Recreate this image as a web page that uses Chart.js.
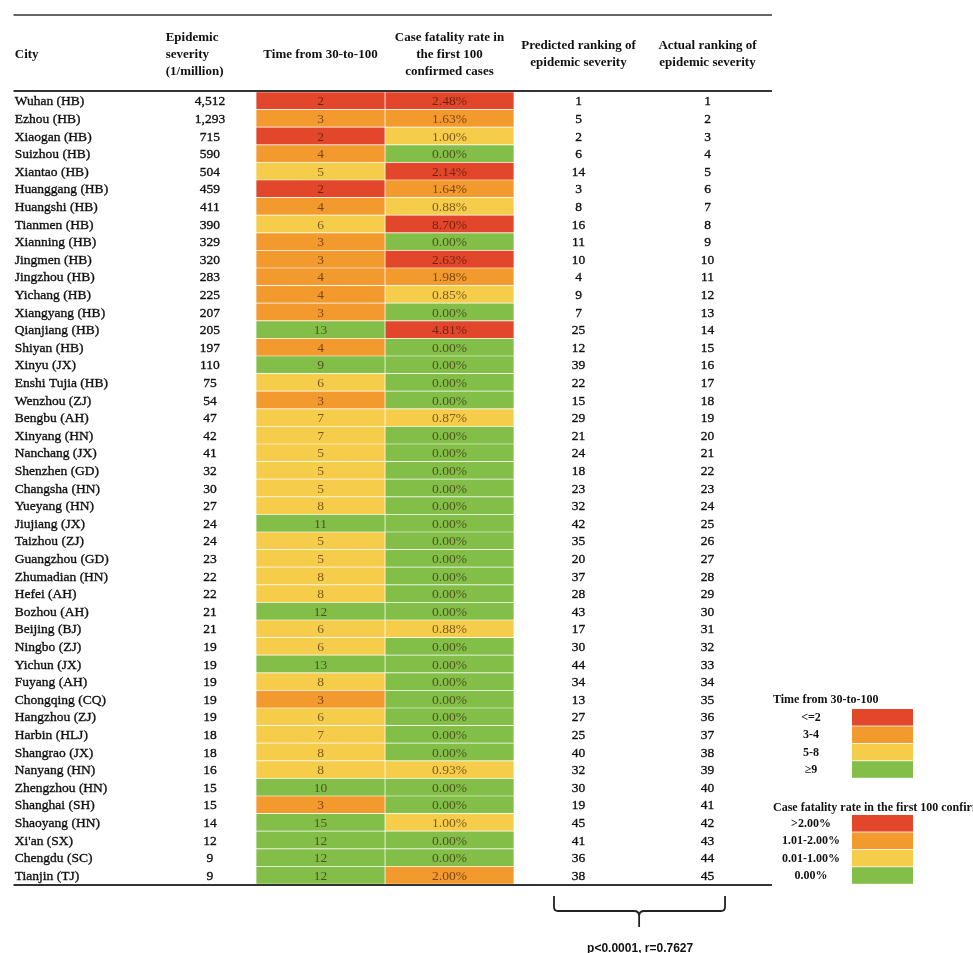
<!DOCTYPE html>
<html>
<head>
<meta charset="utf-8">
<script src="https://cdn.jsdelivr.net/npm/chart.js@4.4.1/dist/chart.umd.min.js"></script>
<style>
  html, body { margin: 0; padding: 0; background: #fff; }
  #wrap { width: 973px; height: 953px; overflow: hidden; }
</style>
</head>
<body>
<div id="wrap"><canvas id="tableChart" width="973" height="953"></canvas></div>
<script>
const cities = [
  "Wuhan (HB)", "Ezhou (HB)", "Xiaogan (HB)", "Suizhou (HB)", "Xiantao (HB)",
  "Huanggang (HB)", "Huangshi (HB)", "Tianmen (HB)", "Xianning (HB)", "Jingmen (HB)",
  "Jingzhou (HB)", "Yichang (HB)", "Xiangyang (HB)", "Qianjiang (HB)", "Shiyan (HB)",
  "Xinyu (JX)", "Enshi Tujia (HB)", "Wenzhou (ZJ)", "Bengbu (AH)", "Xinyang (HN)",
  "Nanchang (JX)", "Shenzhen (GD)", "Changsha (HN)", "Yueyang (HN)", "Jiujiang (JX)",
  "Taizhou (ZJ)", "Guangzhou (GD)", "Zhumadian (HN)", "Hefei (AH)", "Bozhou (AH)",
  "Beijing (BJ)", "Ningbo (ZJ)", "Yichun (JX)", "Fuyang (AH)", "Chongqing (CQ)",
  "Hangzhou (ZJ)", "Harbin (HLJ)", "Shangrao (JX)", "Nanyang (HN)", "Zhengzhou (HN)",
  "Shanghai (SH)", "Shaoyang (HN)", "Xi'an (SX)", "Chengdu (SC)", "Tianjin (TJ)"
];
const severity = [
  4512, 1293, 715, 590, 504, 459, 411, 390, 329, 320, 283, 225, 207, 205, 197,
  110, 75, 54, 47, 42, 41, 32, 30, 27, 24, 24, 23, 22, 22, 21,
  21, 19, 19, 19, 19, 19, 18, 18, 16, 15, 15, 14, 12, 9, 9
];
const timeDays = [
  2, 3, 2, 4, 5, 2, 4, 6, 3, 3, 4, 4, 3, 13, 4,
  9, 6, 3, 7, 7, 5, 5, 5, 8, 11, 5, 5, 8, 8, 12,
  6, 6, 13, 8, 3, 6, 7, 8, 8, 10, 3, 15, 12, 12, 12
];
const fatalityRate = [
  2.48, 1.63, 1.00, 0.00, 2.14, 1.64, 0.88, 8.70, 0.00, 2.63, 1.98, 0.85, 0.00, 4.81, 0.00,
  0.00, 0.00, 0.00, 0.87, 0.00, 0.00, 0.00, 0.00, 0.00, 0.00, 0.00, 0.00, 0.00, 0.00, 0.00,
  0.88, 0.00, 0.00, 0.00, 0.00, 0.00, 0.00, 0.00, 0.93, 0.00, 0.00, 1.00, 0.00, 0.00, 2.00
];
const predictedRank = [
  1, 5, 2, 6, 14, 3, 8, 16, 11, 10, 4, 9, 7, 25, 12,
  39, 22, 15, 29, 21, 24, 18, 23, 32, 42, 35, 20, 37, 28, 43,
  17, 30, 44, 34, 13, 27, 25, 40, 32, 30, 19, 45, 41, 36, 38
];
const actualRank = [
  1, 2, 3, 4, 5, 6, 7, 8, 9, 10, 11, 12, 13, 14, 15,
  16, 17, 18, 19, 20, 21, 22, 23, 24, 25, 26, 27, 28, 29, 30,
  31, 32, 33, 34, 35, 36, 37, 38, 39, 40, 41, 42, 43, 44, 45
];
const timeBins = ["<=2", "3-4", "5-8", "\u22659"];
const fatalityBins = [">2.00%", "1.01-2.00%", "0.01-1.00%", "0.00%"];
const binColors = ["#E2462B", "#F29A2E", "#F6CD4B", "#82BE48"];

const SERIF = '"Liberation Serif", "DejaVu Serif", serif';

function timeBin(d) {
  if (d <= 2) return 0;
  if (d <= 4) return 1;
  if (d <= 8) return 2;
  return 3;
}
function fatalityBin(r) {
  if (r > 2) return 0;
  if (r > 1) return 1;
  if (r > 0) return 2;
  return 3;
}

// draws header, body text, rules, legend and the bracket
const tablePlugin = {
  id: "tableText",
  afterDatasetsDraw(chart) {
    const { ctx, chartArea } = chart;
    const x = chart.scales.x;
    const y = chart.scales.y;
    const col = v => x.getPixelForValue(v);
    const tLeft = col(-1.88), tRight = col(4);
    // slightly heavier text, the scan is a bit smeared
    const text = (s, px, py) => {
      ctx.fillText(s, px, py);
      ctx.strokeText(s, px, py);
    };

    ctx.save();

    // rules
    ctx.strokeStyle = "#333";
    ctx.lineWidth = 1.5;
    ctx.beginPath();
    ctx.moveTo(tLeft, 15); ctx.lineTo(tRight, 15);
    ctx.stroke();
    ctx.lineWidth = 2;
    ctx.beginPath();
    ctx.moveTo(tLeft, chartArea.top - 1); ctx.lineTo(tRight, chartArea.top - 1);
    ctx.moveTo(tLeft, chartArea.bottom + 1); ctx.lineTo(tRight, chartArea.bottom + 1);
    ctx.stroke();

    // header
    ctx.fillStyle = "#111";
    ctx.textBaseline = "middle";
    ctx.font = "bold 13px " + SERIF;
    ctx.textAlign = "left";
    ctx.fillText("City", col(-1.87), 55);
    ctx.fillText("Epidemic", col(-0.70), 38);
    ctx.fillText("severity", col(-0.70), 55);
    ctx.fillText("(1/million)", col(-0.70), 72);
    ctx.textAlign = "center";
    ctx.fillText("Time from 30-to-100", col(0.5), 55);
    ctx.fillText("Case fatality rate in", col(1.5), 38);
    ctx.fillText("the first 100", col(1.5), 55);
    ctx.fillText("confirmed cases", col(1.5), 72);
    ctx.fillText("Predicted ranking of", col(2.5), 46);
    ctx.fillText("epidemic severity", col(2.5), 63);
    ctx.fillText("Actual ranking of", col(3.5), 46);
    ctx.fillText("epidemic severity", col(3.5), 63);

    // body rows
    ctx.font = "13.5px " + SERIF;
    ctx.lineWidth = 0.35;
    cities.forEach((name, i) => {
      const yc = y.getPixelForValue(i) + 1;
      ctx.fillStyle = "#111";
      ctx.strokeStyle = "#111";
      ctx.textAlign = "left";
      text(name, col(-1.87), yc);
      ctx.textAlign = "center";
      text(severity[i].toLocaleString("en-US"), col(-0.357), yc);
      text(String(predictedRank[i]), col(2.5), yc);
      text(String(actualRank[i]), col(3.5), yc);
      ctx.fillStyle = "rgba(45,15,0,0.62)";
      ctx.fillText(String(timeDays[i]), col(0.5), yc);
      ctx.fillText(fatalityRate[i].toFixed(2) + "%", col(1.5), yc);
    });

    // legend
    const swL = 852, swW = 61, swH = 17.4;
    ctx.font = "bold 12px " + SERIF;
    ctx.fillStyle = "#111";
    ctx.textAlign = "left";
    ctx.fillText("Time from 30-to-100", 773, 700);
    ctx.fillText("Case fatality rate in the first 100 confirmed cases", 773, 808);
    const drawBins = (labels, top) => {
      labels.forEach((lab, k) => {
        ctx.fillStyle = binColors[k];
        ctx.fillRect(swL, top + k * swH, swW, swH - 0.8);
        ctx.fillStyle = "#111";
        ctx.textAlign = "center";
        ctx.fillText(lab, 811, top + k * swH + swH / 2);
      });
    };
    drawBins(timeBins, 709);
    drawBins(fatalityBins, 815);

    // bracket under the two ranking columns
    const L = col(2.31), R = col(3.636), C = col(2.97);
    const yTop = 896, yMid = 911, yTip = 927;
    ctx.strokeStyle = "#222";
    ctx.lineWidth = 1.8;
    ctx.beginPath();
    ctx.moveTo(L, yTop); ctx.lineTo(L, yMid - 4);
    ctx.quadraticCurveTo(L, yMid, L + 4, yMid);
    ctx.lineTo(C - 5, yMid);
    ctx.quadraticCurveTo(C, yMid, C, yMid + 5);
    ctx.lineTo(C, yTip);
    ctx.moveTo(R, yTop); ctx.lineTo(R, yMid - 4);
    ctx.quadraticCurveTo(R, yMid, R - 4, yMid);
    ctx.lineTo(C + 5, yMid);
    ctx.quadraticCurveTo(C, yMid, C, yMid + 5);
    ctx.stroke();

    ctx.fillStyle = "#111";
    ctx.font = 'bold 12px "Liberation Sans", Arial, sans-serif';
    ctx.textAlign = "center";
    ctx.textBaseline = "top";
    ctx.fillText("p<0.0001, r=0.7627", C + 1, 943);

    ctx.restore();
  }
};

const ctx = document.getElementById("tableChart").getContext("2d");
new Chart(ctx, {
  type: "bar",
  data: {
    labels: cities,
    datasets: [
      {
        label: "Time from 30-to-100",
        data: timeDays.map(() => [0, 1]),
        backgroundColor: timeDays.map(d => binColors[timeBin(d)])
      },
      {
        label: "Case fatality rate in the first 100 confirmed cases",
        data: fatalityRate.map(() => [1, 2]),
        backgroundColor: fatalityRate.map(r => binColors[fatalityBin(r)])
      }
    ]
  },
  options: {
    indexAxis: "y",
    responsive: false,
    animation: false,
    events: [],
    layout: { padding: { left: 256, right: 201, top: 92, bottom: 69 } },
    datasets: {
      bar: {
        grouped: false,
        barPercentage: 1,
        categoryPercentage: 1,
        borderWidth: 0.7,
        borderColor: "#ffffff",
        borderSkipped: false
      }
    },
    scales: {
      x: { type: "linear", min: 0, max: 4, display: false },
      y: { type: "category", offset: true, display: false }
    },
    plugins: {
      legend: { display: false },
      tooltip: { enabled: false }
    }
  },
  plugins: [tablePlugin]
});
</script>
</body>
</html>
